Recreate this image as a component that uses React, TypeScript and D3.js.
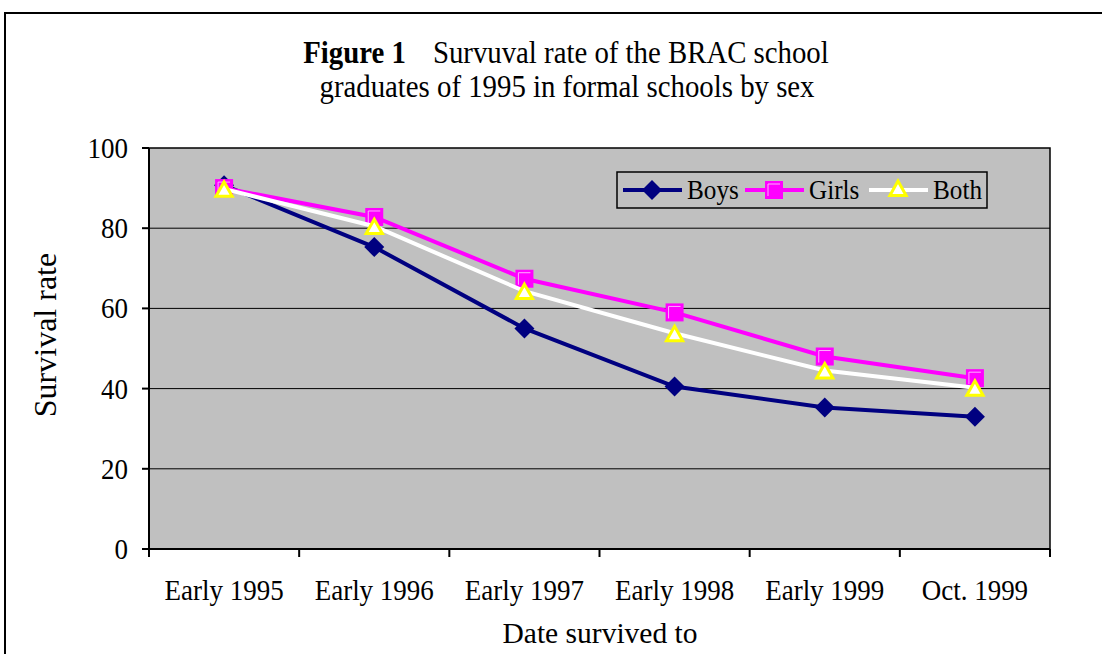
import React from "react";
import * as d3 from "d3";

const categories = ["Early 1995", "Early 1996", "Early 1997", "Early 1998", "Early 1999", "Oct. 1999"];
const boys = [90.7, 75.3, 55.0, 40.5, 35.3, 33.0];
const girls = [90.0, 82.8, 67.4, 59.0, 48.0, 42.6];
const both = [89.8, 80.5, 64.3, 53.8, 44.5, 40.2];
const yTicks = [0, 20, 40, 60, 80, 100];

const W = 1102, H = 654;
const PL = 149, PR = 1050, PT = 148, PB = 549;
const FONT = "'Liberation Serif', 'Times New Roman', serif";
const SX = 0.9;

function T({ x, y, anchor = "middle", size = 30, weight = 400, children, rotate = 0, sx = SX }: any) {
  return (
    <text
      transform={`translate(${x},${y}) rotate(${rotate}) scale(${sx},1)`}
      textAnchor={anchor}
      fontFamily={FONT}
      fontSize={size}
      fontWeight={weight}
      fill="#000"
    >
      {children}
    </text>
  );
}

function Diamond({ x, y }: any) {
  const r = 10;
  return <path d={`M${x},${y - r}L${x + r},${y}L${x},${y + r}L${x - r},${y}Z`} fill="#000080" />;
}
function Square({ x, y }: any) {
  const s = 9;
  return (
    <g>
      <rect x={x - s} y={y - s} width={2 * s} height={2 * s} fill="#FF00FF" />
      <path d={`M${x - s + 3},${y + s - 3}V${y - s + 3}H${x + s - 3}`} fill="none" stroke="#FFB0FF" strokeWidth={1} />
    </g>
  );
}
function Tri({ x, y }: any) {
  const r = 9;
  return (
    <path
      d={`M${x},${y - r}L${x + r * 0.9},${y + r * 0.6}L${x - r * 0.9},${y + r * 0.6}Z`}
      fill="#FFFFFF"
      stroke="#FFFF00"
      strokeWidth={3}
    />
  );
}

export default function App() {
  const x = d3.scaleBand<string>().domain(categories).range([PL, PR]);
  const y = d3.scaleLinear().domain([0, 100]).range([PB, PT]);
  const cx = (c: string) => (x(c) as number) + x.bandwidth() / 2;
  const line = (vals: number[]) =>
    d3.line<number>().x((_, i) => cx(categories[i])).y((v) => y(v))(vals) as string;

  const legY = 190;
  const legItems = [
    { label: "Boys", color: "#000080", x0: 623, M: Diamond },
    { label: "Girls", color: "#FF00FF", x0: 745, M: Square },
    { label: "Both", color: "#FFFFFF", x0: 869, M: Tri },
  ];

  return (
    <svg width={W} height={H} style={{ position: "absolute", left: 0, top: 0, background: "#fff" }}>
      <rect x={5} y={13} width={1300} height={1000} fill="#fff" stroke="#000" strokeWidth={2} />
      <text textAnchor="middle" fontFamily={FONT} fontSize={32} transform={`translate(566,63) scale(${SX},1)`}>
        <tspan fontWeight={700}>Figure 1</tspan>
        <tspan dx={30}>Survuval rate of the BRAC school</tspan>
      </text>
      <T x={567} y={97} size={32}>graduates of 1995 in formal schools by sex</T>

      <rect x={PL} y={PT} width={PR - PL} height={PB - PT} fill="#C0C0C0" />
      {yTicks.filter((t) => t > 0 && t < 100).map((t) => (
        <line key={t} x1={PL} x2={PR} y1={y(t)} y2={y(t)} stroke="#000" strokeWidth={1} />
      ))}
      <rect x={PL} y={PT} width={PR - PL} height={PB - PT} fill="none" stroke="#000" strokeWidth={1.5} />
      <line x1={PL} x2={PL} y1={PT} y2={PB} stroke="#000" strokeWidth={2} />
      <line x1={PL} x2={PR} y1={PB} y2={PB} stroke="#000" strokeWidth={2} />
      {yTicks.map((t) => (
        <g key={t}>
          <line x1={PL - 7} x2={PL} y1={y(t)} y2={y(t)} stroke="#000" strokeWidth={2} />
          <T x={128} y={y(t) + 10} anchor="end">{t}</T>
        </g>
      ))}
      {d3.range(categories.length + 1).map((i) => {
        const xx = PL + i * x.bandwidth();
        return <line key={i} x1={xx} x2={xx} y1={PB} y2={PB + 8} stroke="#000" strokeWidth={2} />;
      })}
      {categories.map((c) => (
        <T key={c} x={cx(c)} y={600}>{c}</T>
      ))}
      <T x={600} y={643} size={29.5} sx={1}>Date survived to</T>
      <T x={56} y={335} rotate={-90} size={32} sx={1}>Survival rate</T>

      <path d={line(boys)} fill="none" stroke="#000080" strokeWidth={4} />
      {boys.map((v, i) => <Diamond key={i} x={cx(categories[i])} y={y(v)} />)}
      <path d={line(girls)} fill="none" stroke="#FF00FF" strokeWidth={4} />
      {girls.map((v, i) => <Square key={i} x={cx(categories[i])} y={y(v)} />)}
      <path d={line(both)} fill="none" stroke="#FFFFFF" strokeWidth={4} />
      {both.map((v, i) => <Tri key={i} x={cx(categories[i])} y={y(v) + 2} />)}

      <rect x={617} y={172} width={370} height={36} fill="#C0C0C0" stroke="#000" strokeWidth={1.5} />
      {legItems.map((it) => (
        <g key={it.label}>
          <line x1={it.x0} x2={it.x0 + 59} y1={legY} y2={legY} stroke={it.color} strokeWidth={4} />
          <it.M x={it.x0 + 29} y={legY} />
          <T x={it.x0 + 64} y={legY + 9} anchor="start" size={28}>{it.label}</T>
        </g>
      ))}
    </svg>
  );
}
